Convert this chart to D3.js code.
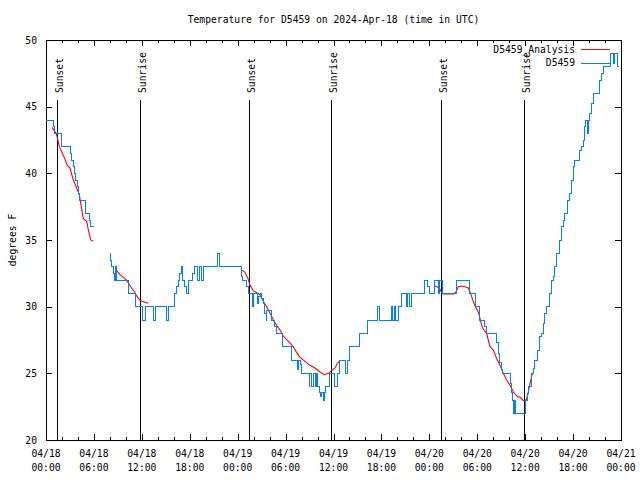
<!DOCTYPE html>
<html><head><meta charset="utf-8">
<script src="https://cdn.jsdelivr.net/npm/d3@7"></script>
<style>
body{margin:0;background:#fff;}
svg{display:block;}
text{font-family:"DejaVu Sans Mono",monospace;font-size:9.7px;fill:#000;}
</style></head><body>
<svg id="chart" width="640" height="480"></svg>
<script>
const titleText = "Temperature for D5459 on 2024-Apr-18 (time in UTC)";
const yLabelText = "degrees F";
const startUTC = Date.UTC(2024, 3, 18, 0, 0);
const HOUR = 3600e3;
const xSpanHours = 72;
const xMajorStepHours = 6;
const xMinorStepHours = 2;
const yTicks = [20, 25, 30, 35, 40, 45, 50];

const sunLabels = ["Sunset", "Sunrise", "Sunset", "Sunrise", "Sunset", "Sunrise"];
const sunHours  = [1.42, 11.81, 25.46, 35.73, 49.5, 59.81];

const seriesNames = ["D5459_Analysis", "D5459"];

// D5459 observations (hours after 04/18 00:00 UTC, deg F); null = gap
const blueHours = [0,0.9,1.1,2.0,3.1,3.25,3.45,3.6,3.75,3.9,4.05,4.25,4.9,5.4,5.55,5.97,6.5,
 8.0,8.12,8.25,8.4,8.55,8.75,8.85,10.35,11.2,12.1,12.45,13.45,13.7,15.05,15.3,16.1,16.35,16.55,16.75,16.95,17.15,17.4,17.6,17.8,18.3,18.55,19.0,19.25,19.45,19.7,21.5,21.75,
 24.43,24.6,25.15,25.3,25.85,25.97,26.45,26.65,26.9,26.98,27.2,27.4,27.55,27.63,28.2,28.6,28.8,29.6,30.72,31.45,31.65,31.85,32.0,32.95,33.05,33.3,33.45,33.7,33.85,34.05,34.2,34.38,34.5,34.7,34.85,35.0,35.45,36.15,36.45,36.8,37.5,37.7,38.05,39.2,40.2,41.55,41.72,
 43.2,43.4,43.6,43.8,44.2,44.5,45.15,45.3,45.55,45.75,47.35,47.8,48.0,48.6,49.1,49.25,49.7,51.45,53.05,53.8,54.3,54.9,55.2,56.4,56.6,56.8,57.0,57.15,58.15,58.3,58.45,58.6,58.7,58.85,
 60.05,60.25,60.45,60.75,61.0,61.2,61.6,61.85,62.05,62.25,62.45,62.65,63.05,63.3,63.5,63.7,63.95,64.3,64.55,64.75,64.95,65.35,65.6,65.8,66.0,66.2,66.85,67.05,67.25,67.45,67.6,67.75,67.9,68.1,68.3,68.5,69.3,69.55,69.75,70.7,71.0,71.2,71.6,71.8];
const blueTemps = [44,43.5,43,42,41.5,41,40.5,40,39.5,39,38.5,38,37,36.5,36,36,null,
 34,33.5,33,32.5,32,33,32,31,30,29,30,29,30,29,30,31,31.5,32,32.5,33,32,31.5,31,32,32.5,33,32,33,32,33,34,33,
 32.25,32,31.5,31,30,31,30.25,30.75,31,30.6,30.25,29.5,29,29.75,29,28.5,28,27,26,25.3,26,25.7,25,24,25,24,25,24,25,24,23.6,23.25,23.6,23,23.6,24,25,24,25,26,25,26,27,28,29,30,29,
 30,29,30,29,30,31,30,31,30,31,32,31.5,31,32,31,32,31,32,31,30,29,28.5,28,27.3,26.5,25.8,25.3,25,24.25,23.6,23,22,23,22,
 23,23.5,24,25,25.4,26,26.75,27.75,28,28.75,29.5,30,31,32,32.25,33,34,35,36,36.5,37,38,38.5,39.5,40.5,41,41.75,42,42.5,43.5,44,43,44,44.5,45.25,46,47,47.5,48,49,48.25,49,48,48];

// D5459 analysis (hours after 04/18 00:00 UTC, deg F); null = gap
const redHours = [0.75,1.25,1.42,1.67,1.97,2.25,2.67,3.0,3.42,3.84,4.17,4.42,4.67,5.1,5.35,5.6,5.92,7.0,
 8.85,9.27,9.9,10.3,10.7,11.1,11.4,11.8,12.8,18.0,
 24.4,24.9,25.3,25.54,25.96,26.8,27.21,27.63,28.05,28.46,28.89,29.3,29.72,30.34,30.97,31.39,31.81,32.43,33.06,33.68,34.31,34.85,35.35,35.77,36.19,36.48,36.81,42.0,
 48.71,49.25,49.5,49.75,51.09,51.34,51.63,52.05,52.46,52.88,53.09,53.3,53.5,53.72,54.13,54.35,54.56,54.76,55.18,55.38,55.6,56.01,56.44,56.85,57.26,57.68,58.1,58.53,58.95,59.37,59.78,60.03,60.2,60.4,60.61,60.9];
const redTemps = [43.45,43,42.7,42,41.6,41.25,40.6,40.4,39.5,38.9,38.4,37.5,36.6,36.4,35.6,35,34.9,null,
 32.7,32.4,32.1,31.8,31.4,31.1,30.75,30.45,30.25,null,
 32.8,32.6,32.1,31.6,31.2,30.9,30.4,30,29.5,29,28.6,28.25,27.8,27.4,27,26.55,26.2,25.9,25.6,25.4,25.1,24.9,25,25.2,25.4,25.75,25.95,null,
 31.55,31.4,31.1,30.95,30.95,31.1,31.5,31.55,31.5,31.4,31.1,30.75,30.4,30.05,29.6,29.1,28.6,28.3,28,27.5,27,26.75,26.1,25.6,25,24.5,24.1,23.6,23.3,23.2,22.95,22.95,23.1,23.6,24.25,25];

const colors = {analysis: "#ff0000", obs: "#0080ff"};

const svg = d3.select("#chart");
const L = 46, R = 621, T = 40, B = 440;
const toDate = h => new Date(startUTC + h * HOUR);
const x = d3.scaleUtc().domain([toDate(0), toDate(xSpanHours)]).range([L, R]);
const y = d3.scaleLinear().domain([20, 50]).range([B, T]);

const majorTicks = d3.range(0, xSpanHours + 0.001, xMajorStepHours).map(toDate);
const minorTicks = d3.range(0, xSpanHours + 0.001, xMinorStepHours).filter(h => h % xMajorStepHours !== 0).map(toDate);

// Title
svg.append("text").attr("x", (L + R) / 2).attr("y", 23).attr("text-anchor", "middle").text(titleText);
// Y label
svg.append("text").attr("transform", `translate(16,${(T + B) / 2}) rotate(-90)`).attr("text-anchor", "middle").text(yLabelText);

const crisp = sel => sel.selectAll("line,path").attr("shape-rendering", "crispEdges");

// Axes: inward ticks, mirrored
const gB = svg.append("g").attr("transform", `translate(0,${B})`)
  .call(d3.axisBottom(x).tickValues(majorTicks).tickSize(-6).tickFormat(""));
gB.append("g").call(d3.axisBottom(x).tickValues(minorTicks).tickSize(-3).tickFormat("")).select(".domain").remove();
const gT = svg.append("g").attr("transform", `translate(0,${T})`)
  .call(d3.axisTop(x).tickValues(majorTicks).tickSize(-6).tickFormat(""));
gT.append("g").call(d3.axisTop(x).tickValues(minorTicks).tickSize(-3).tickFormat("")).select(".domain").remove();
const gL = svg.append("g").attr("transform", `translate(${L},0)`)
  .call(d3.axisLeft(y).tickValues(yTicks).tickSize(-6).tickFormat(""));
const gR = svg.append("g").attr("transform", `translate(${R},0)`)
  .call(d3.axisRight(y).tickValues(yTicks).tickSize(-6).tickFormat(""));
[gB, gT, gL, gR].forEach(g => { g.selectAll(".domain").attr("stroke", "#000"); g.selectAll(".tick line").attr("stroke", "#000"); crisp(g); });

// Y tick labels
svg.append("g").selectAll("text").data(yTicks).join("text")
  .attr("x", L - 9).attr("y", d => y(d) + 3.5).attr("text-anchor", "end").text(d => d);

// X tick labels (two lines)
const fmtD = d3.utcFormat("%m/%d"), fmtT = d3.utcFormat("%H:%M");
const xl = svg.append("g").selectAll("text").data(majorTicks).join("text")
  .attr("text-anchor", "middle");
xl.append("tspan").attr("x", d => x(d)).attr("y", 457).text(d => fmtD(d));
xl.append("tspan").attr("x", d => x(d)).attr("y", 471).text(d => fmtT(d));

// Sunrise / sunset lines
const sun = svg.append("g");
sun.selectAll("line").data(sunHours).join("line")
  .attr("x1", d => Math.round(x(toDate(d))) + 0.5).attr("x2", d => Math.round(x(toDate(d))) + 0.5)
  .attr("y1", y(45.5)).attr("y2", B).attr("stroke", "#000").attr("stroke-width", 1);
sun.selectAll("text").data(sunHours).join("text")
  .attr("transform", d => `translate(${Math.round(x(toDate(d))) + 6},93) rotate(-90)`)
  .text((d, i) => sunLabels[i]);

// Series
const redData = redHours.map((h, i) => ({t: toDate(h), v: redTemps[i]}));
const blueData = blueHours.map((h, i) => ({t: toDate(h), v: blueTemps[i]}));
const lineLin = d3.line().defined(d => d.v != null).x(d => x(d.t)).y(d => y(d.v));
const lineStep = d3.line().defined(d => d.v != null).x(d => x(d.t)).y(d => y(d.v)).curve(d3.curveStepAfter);

svg.append("path").datum(redData).attr("d", lineLin).attr("fill", "none")
  .attr("stroke", colors.analysis).attr("stroke-width", 1.1);
svg.append("path").datum(blueData).attr("d", lineStep).attr("fill", "none")
  .attr("stroke", colors.obs).attr("stroke-width", 1).attr("shape-rendering", "crispEdges");

// Legend
const leg = svg.append("g");
const legY = [49, 62.5];
const legColors = [colors.analysis, colors.obs];
seriesNames.forEach((n, i) => {
  leg.append("text").attr("x", 575).attr("y", legY[i] + 3.5).attr("text-anchor", "end").text(n);
  leg.append("line").attr("x1", 581).attr("x2", 610).attr("y1", Math.round(legY[i]) + 0.5).attr("y2", Math.round(legY[i]) + 0.5)
    .attr("stroke", legColors[i]).attr("stroke-width", 1).attr("shape-rendering", "crispEdges");
});
</script>
</body></html>
